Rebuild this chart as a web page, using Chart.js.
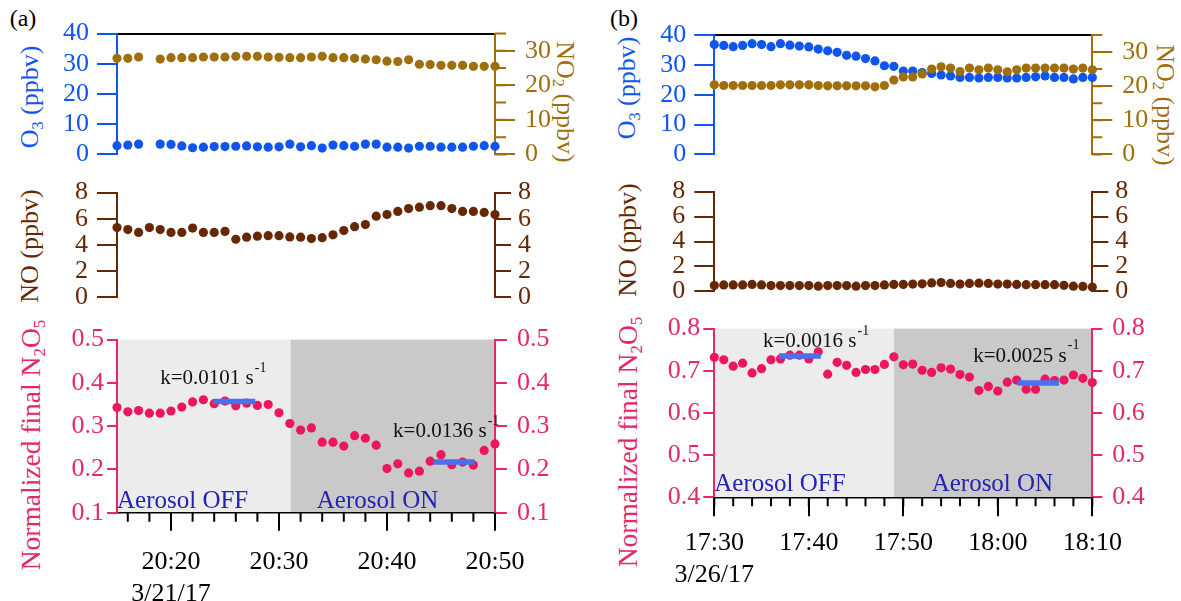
<!DOCTYPE html>
<html lang="en">
<head>
<meta charset="UTF-8">
<title>N2O5 uptake, aerosol OFF / ON</title>
<script src="https://cdn.jsdelivr.net/npm/chart.js"></script>
<style>
  body { margin: 0; width: 1181px; height: 601px; position: relative; overflow: hidden; background: #fff;
         font-family: "Liberation Serif", "Times New Roman", serif; }
  .box { position: absolute; }
  .lbl { position: absolute; white-space: nowrap; line-height: 1; font-size: 26px;
         transform: translate(-50%, -50%) rotate(-90deg); }
  .lbl.cw { transform: translate(-50%, -50%) rotate(90deg); }
  .lbl sub { font-size: 62%; vertical-align: -0.28em; line-height: 0; }
  .tag { position: absolute; font-size: 24px; line-height: 1; transform: translate(-50%, -50%); }
</style>
</head>
<body>
<div class="tag" style="left:23px;top:18px">(a)</div>
<div class="tag" style="left:624px;top:18px">(b)</div>

<div class="lbl" style="left:30px;top:97px;color:#0f55ee">O<sub>3</sub> (ppbv)</div>
<div class="lbl cw" style="left:565px;top:102px;color:#9f6f0d">NO<sub>2</sub> (ppbv)</div>
<div class="lbl" style="left:30px;top:246px;color:#662705">NO (ppbv)</div>
<div class="lbl" style="left:31px;top:445px;color:#e3286b;font-size:27.5px">Normalized final N<sub>2</sub>O<sub>5</sub></div>

<div class="lbl" style="left:627px;top:88px;color:#0f55ee">O<sub>3</sub> (ppbv)</div>
<div class="lbl cw" style="left:1165px;top:105px;color:#9f6f0d">NO<sub>2</sub> (ppbv)</div>
<div class="lbl" style="left:628px;top:240px;color:#662705">NO (ppbv)</div>
<div class="lbl" style="left:628px;top:442px;color:#e3286b;font-size:27.5px">Normalized final N<sub>2</sub>O<sub>5</sub></div>

<div class="box" id="aTop"><canvas></canvas></div>
<div class="box" id="aMid"><canvas></canvas></div>
<div class="box" id="aBot"><canvas></canvas></div>
<div class="box" id="bTop"><canvas></canvas></div>
<div class="box" id="bMid"><canvas></canvas></div>
<div class="box" id="bBot"><canvas></canvas></div>

<script>
// ---- panel (a), 3/21/17 ----
const timesA = ['20:15','20:16','20:17','20:18','20:19','20:20','20:21','20:22','20:23','20:24',
                '20:25','20:26','20:27','20:28','20:29','20:30','20:31','20:32','20:33','20:34',
                '20:35','20:36','20:37','20:38','20:39','20:40','20:41','20:42','20:43','20:44',
                '20:45','20:46','20:47','20:48','20:49','20:50'];
const o3A   = [2.9, 3.1, 3.4, null, 3.4, 3.3, 2.8, 2.2, 2.4, 2.6, 2.6, 2.7, 2.8, 2.5, 2.4, 2.5, 3.4, 2.5,
               2.9, 2.1, 3.1, 2.9, 2.7, 3.4, 3.4, 2.4, 2.4, 2.1, 2.7, 2.7, 2.4, 2.4, 2.4, 2.7, 2.9, 2.7];
const no2A  = [27.8, 27.8, 28.2, null, 27.6, 28.0, 28.0, 28.0, 28.2, 28.2, 28.2, 28.4, 28.4, 28.4, 28.2, 28.1, 28.0, 28.0,
               28.2, 28.4, 28.0, 28.0, 27.8, 27.6, 27.4, 27.0, 26.9, 27.4, 26.1, 26.0, 25.8, 25.8, 25.8, 25.5, 25.5, 25.5];
const noA   = [5.33, 5.18, 4.96, 5.33, 5.18, 4.96, 4.96, 5.29, 4.96, 4.96, 5.04, 4.44, 4.60, 4.67, 4.71, 4.71, 4.62, 4.60,
               4.49, 4.56, 4.78, 5.10, 5.40, 5.56, 6.20, 6.33, 6.56, 6.78, 6.89, 7.00, 7.00, 6.78, 6.56, 6.56, 6.49, 6.33];
const n2o5A = [0.343, 0.333, 0.336, 0.330, 0.330, 0.335, 0.344, 0.356, 0.361, 0.352, 0.358, 0.347, 0.353, 0.348, 0.350, 0.331, 0.306, 0.291,
               0.296, 0.263, 0.263, 0.254, 0.278, 0.272, 0.256, 0.202, 0.213, 0.192, 0.196, 0.219, 0.234, 0.211, 0.217, 0.210, 0.244, 0.259];
const phasesA = ['20:15', '20:31:05', '20:50'];          // OFF start, switch to ON, end
const fitOffA = ['20:23:54', '20:27:48'], fitOffValA = 0.357;
const fitOnA  = ['20:44:18', '20:48:06'], fitOnValA  = 0.217;
const dateA = '3/21/17';

// ---- panel (b), 3/26/17 ----
const timesB = ['17:30','17:31','17:32','17:33','17:34','17:35','17:36','17:37','17:38','17:39',
                '17:40','17:41','17:42','17:43','17:44','17:45','17:46','17:47','17:48','17:49',
                '17:50','17:51','17:52','17:53','17:54','17:55','17:56','17:57','17:58','17:59',
                '18:00','18:01','18:02','18:03','18:04','18:05','18:06','18:07','18:08','18:09','18:10'];
const o3B   = [36.8, 36.5, 36.1, 36.5, 37.1, 36.8, 36.1, 37.1, 36.6, 36.3, 36.0, 35.3, 34.7, 34.2, 33.2, 32.9, 32.1, 31.3, 29.7, 29.5,
               27.9, 27.9, 27.4, 27.1, 26.6, 26.3, 25.8, 25.8, 25.6, 25.8, 25.8, 25.6, 25.6, 25.8, 26.0, 26.3, 25.8, 25.8, 25.3, 25.8, 25.8];
const no2B  = [20.4, 20.2, 20.2, 20.2, 20.2, 20.2, 20.2, 20.4, 20.4, 20.4, 20.4, 20.2, 20.1, 20.1, 20.1, 20.1, 20.1, 19.8, 20.2, 21.8,
               22.7, 22.7, 23.6, 25.0, 25.7, 25.3, 24.3, 25.3, 24.8, 25.3, 24.8, 24.2, 24.8, 25.3, 25.3, 25.3, 25.3, 25.3, 25.0, 25.3, 24.8];
const noB   = [0.47, 0.52, 0.52, 0.52, 0.56, 0.52, 0.47, 0.47, 0.47, 0.47, 0.47, 0.42, 0.47, 0.47, 0.47, 0.42, 0.47, 0.47, 0.52, 0.56,
               0.56, 0.59, 0.61, 0.68, 0.71, 0.64, 0.59, 0.64, 0.66, 0.64, 0.59, 0.59, 0.56, 0.54, 0.54, 0.54, 0.54, 0.49, 0.42, 0.40, 0.35];
const n2o5B = [0.732, 0.726, 0.711, 0.718, 0.695, 0.705, 0.726, 0.728, 0.737, 0.737, 0.728, 0.745, 0.692, 0.720, 0.713, 0.696, 0.703, 0.703, 0.715, 0.733,
               0.714, 0.716, 0.701, 0.696, 0.707, 0.704, 0.691, 0.685, 0.653, 0.663, 0.652, 0.673, 0.678, 0.656, 0.656, 0.680, 0.677, 0.678, 0.690, 0.682, 0.672];
const phasesB = ['17:30', '17:49', '18:10'];
const fitOffB = ['17:36:51', '17:41:16'], fitOffValB = 0.735;
const fitOnB  = ['18:02:04', '18:06:29'], fitOnValB  = 0.671;
const dateB = '3/26/17';

const BLUE = '#0f55ee', GOLD = '#9f6f0d', BROWN = '#662705', PINK = '#ec1660', PINK_AX = '#e3286b';
const FIT = '#4a70ee', NOTE_BLUE = '#2424ae', OFF_FILL = '#ececec', ON_FILL = '#c9c9c9';

Chart.defaults.font.family = '"Liberation Serif", "Times New Roman", serif';
Chart.defaults.font.size = 26;
Chart.defaults.color = '#000';

function toMin(s) {
    const p = s.split(':').map(Number);
    return p[0] * 60 + p[1] + (p[2] || 0) / 60;
}
function fmt(v) {
    const h = Math.floor(v / 60), m = Math.round(v - h * 60);
    return h + ':' + String(m).padStart(2, '0');
}
function pts(times, vals) {
    return times.map((t, i) => ({ x: toMin(t), y: vals[i] }));
}
function dots(data, color, axis, order) {
    return { data, yAxisID: axis, order, clip: false, pointRadius: 4.6, pointBorderWidth: 0,
             pointBackgroundColor: color, pointBorderColor: color };
}
function fitLine(times, val) {
    return { type: 'line', data: times.map(t => ({ x: toMin(t), y: val })), yAxisID: 'y', order: -1, clip: false,
             borderColor: FIT, borderWidth: 5.5, borderCapStyle: 'butt', pointRadius: 0 };
}

// shaded OFF/ON phases, minor ticks, k / aerosol notes
const deco = {
    id: 'deco',
    beforeDraw(chart, args, o) {
        if (!o.phases) return;
        const { ctx, chartArea: a, scales: { x } } = chart;
        const p = o.phases.map(t => x.getPixelForValue(toMin(t)));
        ctx.save();
        ctx.fillStyle = OFF_FILL;
        ctx.fillRect(p[0], a.top, p[1] - p[0], a.bottom - a.top);
        ctx.fillStyle = ON_FILL;
        ctx.fillRect(p[1], a.top, p[2] - p[1], a.bottom - a.top);
        ctx.restore();
    },
    afterDraw(chart, args, o) {
        const ctx = chart.ctx;
        (o.minor || []).forEach(m => {
            const s = chart.scales[m.axis];
            ctx.save();
            ctx.strokeStyle = m.color;
            ctx.lineWidth = 2;
            ctx.beginPath();
            for (let v = Math.ceil(s.min / m.step) * m.step; v <= s.max + 1e-9; v += m.step) {
                const px = s.getPixelForValue(v);
                if (s.isHorizontal()) { ctx.moveTo(px, s.top); ctx.lineTo(px, s.top + m.len); }
                else if (s.position === 'right') { ctx.moveTo(s.left, px); ctx.lineTo(s.left + m.len, px); }
                else { ctx.moveTo(s.right, px); ctx.lineTo(s.right - m.len, px); }
            }
            ctx.stroke();
            ctx.restore();
        });
        (o.notes || []).forEach(n => {
            const x = chart.scales.x.getPixelForValue(toMin(n.t));
            const y = chart.scales.y.getPixelForValue(n.y);
            ctx.save();
            ctx.font = n.size + 'px "Liberation Serif"';
            ctx.fillStyle = n.color;
            ctx.textAlign = 'left';
            ctx.textBaseline = 'middle';
            ctx.fillText(n.text, x, y);
            if (n.sup) {
                const w = ctx.measureText(n.text).width;
                ctx.font = Math.round(n.size * 0.65) + 'px "Liberation Serif"';
                ctx.fillText(n.sup, x + w + 1, y - n.size * 0.5);
            }
            ctx.restore();
        });
    }
};

function yScale(o) {
    const hide = v => o.major && Math.abs(v % o.major) > 1e-6;
    return {
        type: 'linear', position: o.pos, min: o.min, max: o.max,
        afterFit: s => { s.width = o.w; },
        border: { color: o.color, width: 2 },
        grid: { drawOnChartArea: false, tickLength: o.tick, lineWidth: 2, color: o.color,
                tickColor: c => (c.tick && hide(c.tick.value)) ? 'rgba(0,0,0,0)' : o.color },
        ticks: { stepSize: o.step, color: o.color, padding: o.pad, autoSkip: false,
                 callback: v => hide(v) ? '' : v.toFixed(o.dec || 0) }
    };
}

function build(id, box, area, kind, o) {
    const div = document.getElementById(id);
    div.style.left = box[0] + 'px';
    div.style.top = box[1] + 'px';
    div.style.width = (box[2] - box[0]) + 'px';
    div.style.height = (box[3] - box[1]) + 'px';
    const xMin = toMin(o.range[0]), xMax = toMin(o.range[1]);
    const padTop = area[1] - box[1], padBot = box[3] - area[3];
    let x;
    if (kind === 'top') {
        x = { type: 'linear', position: 'top', min: xMin, max: xMax, afterFit: s => { s.height = padTop; },
              border: { color: '#000', width: 2 }, grid: { display: false }, ticks: { display: false } };
    } else if (kind === 'mid') {
        x = { type: 'linear', display: false, min: xMin, max: xMax };
    } else {
        x = { type: 'linear', position: 'bottom', min: xMin, max: xMax, afterFit: s => { s.height = padBot; },
              border: { color: '#000', width: 1.5 },
              grid: { drawOnChartArea: false, tickLength: o.xTick, lineWidth: 2,
                      tickColor: c => (c.tick && c.tick.value % 10 === 0) ? '#000' : 'rgba(0,0,0,0)' },
              ticks: { stepSize: 2, includeBounds: false, autoSkip: false, maxRotation: 0, minRotation: 0,
                       padding: o.xPad, color: '#000', font: { size: 26, lineHeight: 1.24 },
                       callback: v => v % 10 !== 0 ? '' : (v === toMin(o.dateAt) ? [fmt(v), o.date] : fmt(v)) } };
    }
    return new Chart(div.querySelector('canvas'), {
        type: 'scatter',
        data: { datasets: o.datasets },
        options: {
            responsive: true, maintainAspectRatio: false, animation: false, events: [],
            layout: { padding: { left: 0, right: 0,
                                 top: kind === 'top' ? 0 : padTop,
                                 bottom: kind === 'bot' ? 0 : padBot } },
            scales: {
                x,
                y: yScale(Object.assign({ pos: 'left', w: area[0] - box[0] }, o.left)),
                y2: yScale(Object.assign({ pos: 'right', w: box[2] - area[2] }, o.right))
            },
            plugins: { legend: { display: false }, tooltip: { enabled: false }, deco: o.deco || {} }
        },
        plugins: [deco]
    });
}

const rangeA = [timesA[0], timesA[timesA.length - 1]];
const rangeB = [timesB[0], timesB[timesB.length - 1]];

// panel (a)
build('aTop', [0, 0, 600, 180], [117, 33.5, 495, 163.3], 'top', {
    range: rangeA,
    datasets: [dots(pts(timesA, no2A), GOLD, 'y2', 0), dots(pts(timesA, o3A), BLUE, 'y', 1)],
    left:  { min: 0, max: 40, step: 10, color: BLUE, tick: 20, pad: 8 },
    right: { min: 0, max: 35, step: 5, major: 10, color: GOLD, tick: 20, pad: 10 },
    deco: { minor: [{ axis: 'y2', step: 5, len: 11, color: GOLD }] }
});
build('aMid', [0, 168, 600, 322], [117, 186.7, 495, 306.7], 'mid', {
    range: rangeA,
    datasets: [dots(pts(timesA, noA), BROWN, 'y', 0)],
    left:  { min: 0, max: 8, step: 2, color: BROWN, tick: 20, pad: 9 },
    right: { min: 0, max: 8, step: 2, color: BROWN, tick: 16, pad: 7 }
});
build('aBot', [0, 314, 600, 601], [117, 331.7, 495, 512.7], 'bot', {
    range: rangeA, date: dateA, dateAt: '20:20', xTick: 18, xPad: 15,
    datasets: [fitLine(fitOffA, fitOffValA), fitLine(fitOnA, fitOnValA), dots(pts(timesA, n2o5A), PINK, 'y', 1)],
    left:  { min: 0.1, max: 0.5, step: 0.1, dec: 1, color: PINK_AX, tick: 10, pad: 3 },
    right: { min: 0.1, max: 0.5, step: 0.1, dec: 1, color: PINK_AX, tick: 12, pad: 10 },
    deco: {
        phases: phasesA,
        minor: [{ axis: 'x', step: 2, len: 9, color: '#000' }],
        notes: [
            { t: '20:19', y: 0.409, text: 'k=0.0101 s', sup: '-1', size: 21, color: '#111' },
            { t: '20:40:34', y: 0.287, text: 'k=0.0136 s', sup: '-1', size: 21, color: '#111' },
            { t: '20:15', y: 0.126, text: 'Aerosol OFF', size: 25, color: NOTE_BLUE },
            { t: '20:33:30', y: 0.126, text: 'Aerosol ON', size: 25, color: NOTE_BLUE }
        ]
    }
});

// panel (b)
build('bTop', [600, 0, 1181, 180], [714.3, 35, 1092.3, 162], 'top', {
    range: rangeB,
    datasets: [dots(pts(timesB, no2B), GOLD, 'y2', 0), dots(pts(timesB, o3B), BLUE, 'y', 1)],
    left:  { min: 0, max: 40, step: 10, color: BLUE, tick: 20, pad: 8 },
    right: { min: 0, max: 35, step: 5, major: 10, color: GOLD, tick: 20, pad: 10 },
    deco: { minor: [{ axis: 'y2', step: 5, len: 10, color: GOLD }] }
});
build('bMid', [600, 167, 1181, 316], [714.3, 185, 1092.3, 298.3], 'mid', {
    range: rangeB,
    datasets: [dots(pts(timesB, noB), BROWN, 'y', 0)],
    left:  { min: 0, max: 8, step: 2, color: BROWN, tick: 20, pad: 9 },
    right: { min: 0, max: 8, step: 2, color: BROWN, tick: 16, pad: 7 }
});
build('bBot', [600, 303, 1181, 601], [714.3, 321.3, 1092.3, 497.3], 'bot', {
    range: rangeB, date: dateB, dateAt: '17:30', xTick: 19, xPad: 11,
    datasets: [fitLine(fitOffB, fitOffValB), fitLine(fitOnB, fitOnValB), dots(pts(timesB, n2o5B), PINK, 'y', 1)],
    left:  { min: 0.4, max: 0.8, step: 0.1, dec: 1, color: PINK_AX, tick: 11, pad: 3 },
    right: { min: 0.4, max: 0.8, step: 0.1, dec: 1, color: PINK_AX, tick: 10, pad: 10 },
    deco: {
        phases: phasesB,
        minor: [{ axis: 'x', step: 2, len: 9, color: '#000' }],
        notes: [
            { t: '17:35:09', y: 0.769, text: 'k=0.0016 s', sup: '-1', size: 21, color: '#111' },
            { t: '17:57:24', y: 0.735, text: 'k=0.0025 s', sup: '-1', size: 21, color: '#111' },
            { t: '17:30', y: 0.430, text: 'Aerosol OFF', size: 25, color: NOTE_BLUE },
            { t: '17:53', y: 0.430, text: 'Aerosol ON', size: 25, color: NOTE_BLUE }
        ]
    }
});
</script>
</body>
</html>
